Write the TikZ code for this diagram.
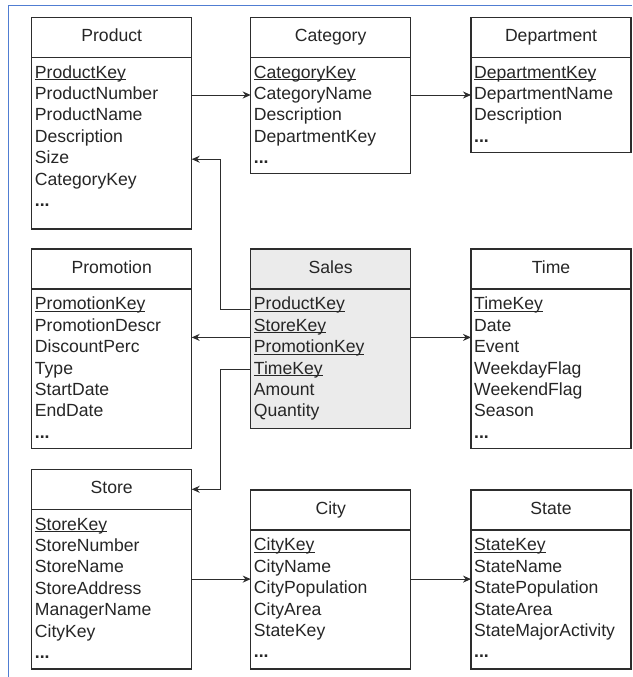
\documentclass[tikz,border=0pt]{standalone}
\usepackage{fontspec}
\setmainfont{Liberation Sans}
\usetikzlibrary{arrows.meta,calc}
\definecolor{framecol}{RGB}{80,125,210}
\definecolor{linecol}{RGB}{45,45,45}
\definecolor{salesfill}{RGB}{235,235,235}
\newcommand{\pk}[1]{\setbox0\hbox{#1}\rlap{\rule[-2pt]{\wd0}{1.1pt}}#1}
\newcommand{\more}{\textbf{...}}
\tikzset{
  head/.style={draw=linecol, line width=1.2pt, minimum width=160pt, minimum height=40pt, anchor=north west, inner sep=0pt, outer sep=0pt, text height=13pt, text depth=4pt},
  body/.style={draw=linecol, line width=1.2pt, minimum width=160pt, anchor=north west, inner sep=0pt, outer sep=0pt},
  row/.style={anchor=base west, inner sep=0pt, text height=13pt, text depth=4pt},
}
% table: [fill] name, corner, body height, title, rows
\newcommand{\entitybox}[6][white]{%
  \node[head, fill=#1] (#2h) at #3 {#5};
  \node[body, fill=#1, minimum height=#4] (#2b) at (#2h.south west) {};
  \foreach \r [count=\i] in {#6}
    \node[row] (#2\i) at ([xshift=3pt, yshift=-20.8pt-21.4pt*(\i-1)]#2b.north west) {\r};
}
\begin{document}
\begin{tikzpicture}[x=1pt, y=-1pt, font=\fontsize{17.6}{21.4}\selectfont, text=black!85, >={Stealth[length=8pt,width=7pt]}]
\useasboundingbox (0,0) rectangle (632,677);
\draw[framecol, line width=1pt] (8.7,677) -- (8.7,5.7) -- (632,5.7);
% tables
\entitybox{prod}{(31.7,17.3)}{171.7pt}{Product}{\pk{ProductKey},ProductNumber,ProductName,Description,Size,CategoryKey,\more}
\entitybox{cat}{(250.7,17.3)}{116pt}{Category}{\pk{CategoryKey},CategoryName,Description,DepartmentKey,\more}
\entitybox{dept}{(471,17.3)}{95pt}{Department}{\pk{DepartmentKey},DepartmentName,Description,\more}
\entitybox{prom}{(31.7,249)}{159.5pt}{Promotion}{\pk{PromotionKey},PromotionDescr,DiscountPerc,Type,StartDate,EndDate,\more}
\entitybox[salesfill]{sales}{(250.7,249)}{139.3pt}{Sales}{\pk{ProductKey},\pk{StoreKey},\pk{PromotionKey},\pk{TimeKey},Amount,Quantity}
\entitybox{time}{(471,249)}{159.5pt}{Time}{\pk{TimeKey},Date,Event,WeekdayFlag,WeekendFlag,Season,\more}
\entitybox{store}{(31.7,469.3)}{159.7pt}{Store}{\pk{StoreKey},StoreNumber,StoreName,StoreAddress,ManagerName,CityKey,\more}
\entitybox{city}{(250.7,490)}{139pt}{City}{\pk{CityKey},CityName,CityPopulation,CityArea,StateKey,\more}
\entitybox{state}{(471,490)}{139pt}{State}{\pk{StateKey},StateName,StatePopulation,StateArea,StateMajorActivity,\more}
% links
\coordinate (salesmid) at ($(sales2)!.5!(sales3)$);
\coordinate (storemid) at ($(store3)!.5!(store4)$);
\begin{scope}[draw=linecol, line width=1pt]
\draw[->] (prodb.east |- prod2) -- (catb.west |- prod2);
\draw[->] (catb.east |- cat2) -- (deptb.west |- cat2);
\draw[->] (salesb.west |- sales1.base) -- ++(-30,0) |- (prodb.east |- prod5);
\draw[->] (salesb.west |- salesmid) -- (promb.east |- salesmid);
\draw[->] (salesb.east |- salesmid) -- (timeb.west |- salesmid);
\draw[->] (salesb.west |- sales4) -- ++(-30,0) |- (storeh.east);
\draw[->] (storeb.east |- storemid) -- (cityb.west |- storemid);
\draw[->] (cityb.east |- storemid) -- (stateb.west |- storemid);
\end{scope}
\end{tikzpicture}
\end{document}
